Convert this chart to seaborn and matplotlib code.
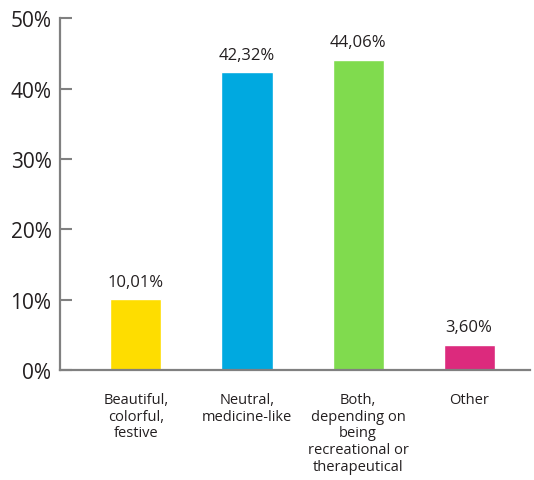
import matplotlib
matplotlib.use("Agg")
import matplotlib.pyplot as plt
import seaborn as sns
import pandas as pd

categories = ["Beautiful,\ncolorful,\nfestive", "Neutral,\nmedicine-like",
              "Both,\ndepending on\nbeing\nrecreational or\ntherapeutical", "Other"]
values = [10.01, 42.32, 44.06, 3.60]
value_labels = ["10,01%", "42,32%", "44,06%", "3,60%"]
colors = ["#FEDD00", "#00A9E0", "#80DB4E", "#DC2A7D"]
yticks = [0, 10, 20, 30, 40, 50]
ytick_labels = ["0%", "10%", "20%", "30%", "40%", "50%"]

sns.set_theme(style="white")
plt.rcParams['font.family'] = ['Open Sans', 'DejaVu Sans']

df = pd.DataFrame({"cat": categories, "val": values})
fig = plt.figure(figsize=(5.34, 4.81), dpi=100)
ax = fig.add_axes([0.112, 0.229, 0.881, 0.731])
sns.barplot(data=df, x="cat", y="val", hue="cat", palette=colors, legend=False,
            width=0.46, ax=ax, saturation=1)

ax.set_xlim(-0.685, 3.55)
ax.set_ylim(0, 50)
ax.set_yticks(yticks)
ax.set_yticklabels(ytick_labels, fontsize=15, color="#231F20")
ax.set_xlabel("")
ax.set_ylabel("")
ax.tick_params(axis="y", direction="in", length=8.5, width=1.5, color="#808080", pad=6, left=True)
ax.tick_params(axis="x", length=0, pad=16, labelsize=10.5, colors="#231F20")
for lbl in ax.get_xticklabels():
    lbl.set_linespacing(1.15)
    lbl.set_va("top")

for s in ["top", "right"]:
    ax.spines[s].set_visible(False)
for s in ["left", "bottom"]:
    ax.spines[s].set_color("#808080")
    ax.spines[s].set_linewidth(1.6)

for i, (v, t) in enumerate(zip(values, value_labels)):
    ax.annotate(t, (i, v), xytext=(0, 7), textcoords="offset points",
                ha="center", va="bottom", fontsize=12, color="#231F20")

fig.savefig("out.png", dpi=100)
